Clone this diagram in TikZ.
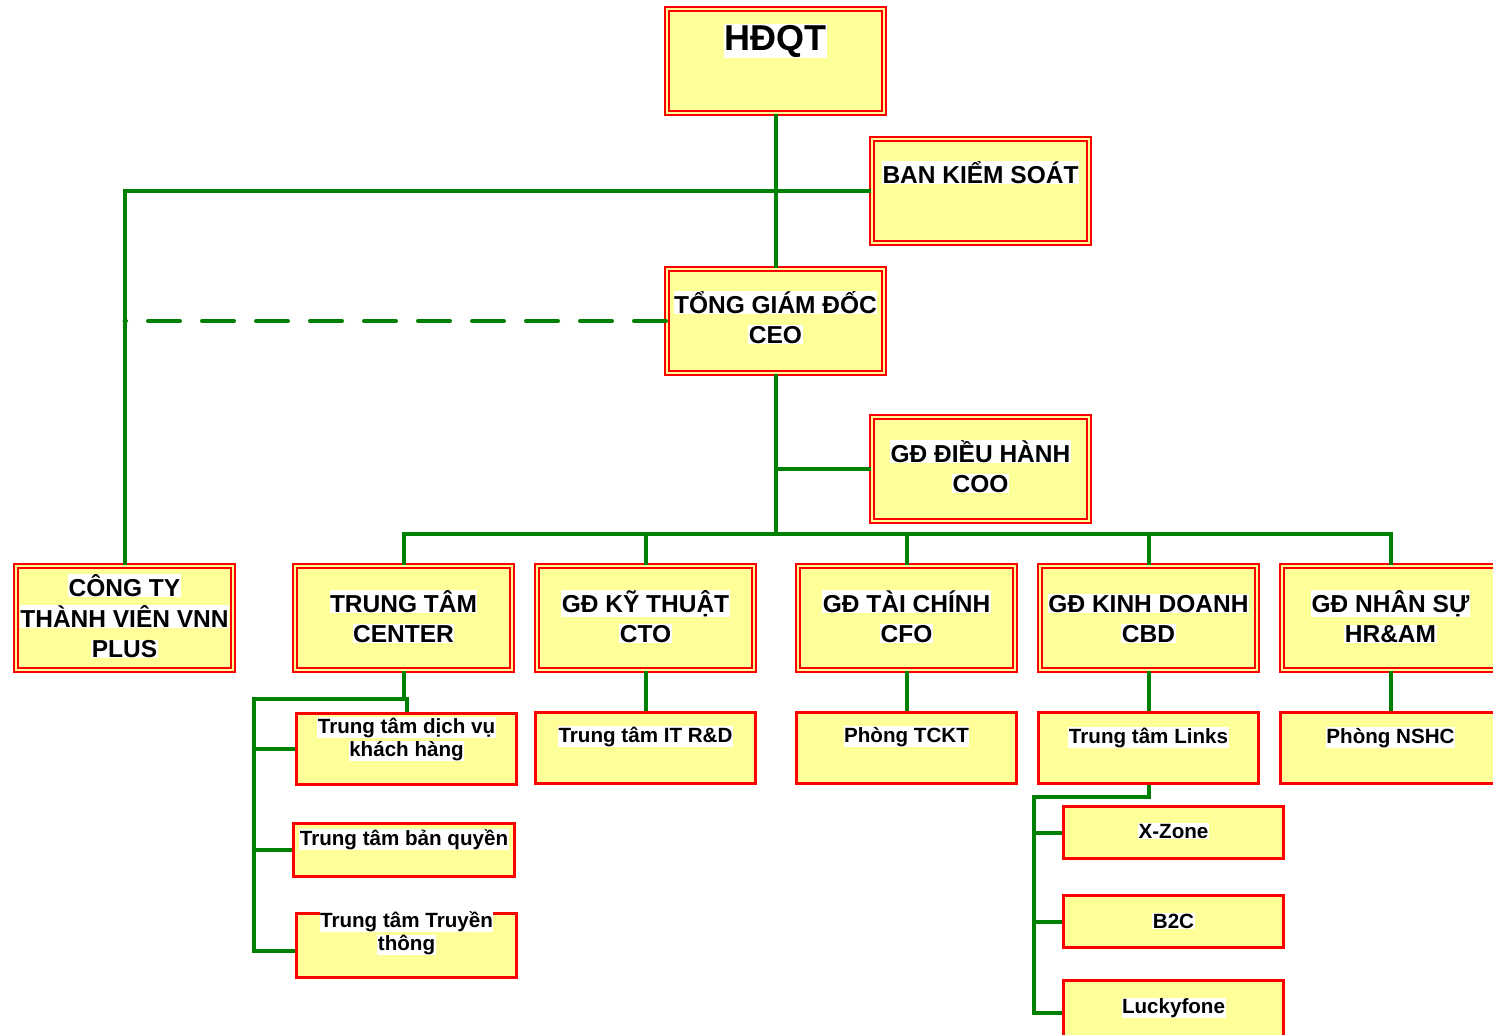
\documentclass[tikz,border=0pt]{standalone}
\usepackage{fontspec}
\setmainfont{Liberation Sans}
\definecolor{boxyellow}{RGB}{255,255,153}
\definecolor{linegreen}{RGB}{0,128,0}
\newcommand{\hl}[1]{{\setlength{\fboxsep}{0.5pt}\colorbox{white}{#1}}}
\newcommand{\stk}[1]{\begin{tabular}[t]{@{}c@{}}#1\end{tabular}}

\begin{document}
\begin{tikzpicture}[x=1pt,y=-1pt,
    dbox/.style={draw=red,line width=2pt,double=boxyellow,double distance=2pt,
      fill=boxyellow,minimum width=217pt,minimum height=104pt,inner sep=0pt},
    sbox/.style={draw=red,line width=3pt,fill=boxyellow,minimum width=220pt,inner sep=0pt},
    lbl/.style={anchor=base,inner sep=0pt,font=\bfseries\fontsize{24.5}{30}\selectfont},
    slbl/.style={lbl,font=\bfseries\fontsize{20.6}{23.5}\selectfont},
    conn/.style={draw=linegreen,line width=4pt}]
         \useasboundingbox (0,0) rectangle (1493,1034) ;
         % top of the chart
         \node[dbox] (hdqt) at (775.5,60.5) {} ;
         \node[dbox] (bks) at (980.5,191) {} ;
         \node[dbox] (ceo) at (775.5,321) {} ;
         \node[dbox] (coo) at (980.5,469) {} ;
         % row of directors
         \node[dbox] (cty) at (124.5,618) {} ;
         \node[dbox] (center) at (403.5,618) {} ;
         \node[dbox] (cto) at (645.5,618) {} ;
         \node[dbox] (cfo) at (906.5,618) {} ;
         \node[dbox] (cbd) at (1148.5,618) {} ;
         \node[dbox] (hr) at (1390.5,618) {} ;
         % units
         \node[sbox,minimum height=71pt] (cskh) at (406.5,749) {} ;
         \node[sbox,minimum height=53pt,minimum width=221pt] (bq) at (404,850) {} ;
         \node[sbox,minimum height=64pt] (tt) at (406.5,945.5) {} ;
         \node[sbox,minimum height=71pt] (itrd) at (645.5,748) {} ;
         \node[sbox,minimum height=71pt] (tckt) at (906.5,748) {} ;
         \node[sbox,minimum height=71pt] (links) at (1148.5,748) {} ;
         \node[sbox,minimum height=71pt] (nshc) at (1390.5,748) {} ;
         \node[sbox,minimum height=52pt] (xzone) at (1173.5,832.5) {} ;
         \node[sbox,minimum height=52pt] (b2c) at (1173.5,921.5) {} ;
         \node[sbox,minimum height=59pt] (lucky) at (1173.5,1010) {} ;
         % texts
         \node[lbl,font=\bfseries\fontsize{36}{40}\selectfont] (hdqt-t) at (775.5,50) {\hl{HĐQT}} ;
         \node[lbl] (bks-t) at (980.5,183) {\hl{BAN KIỂM SOÁT}} ;
         \node[lbl] (ceo-t) at (775.5,313) {\stk{\hl{TỔNG GIÁM ĐỐC}\\\hl{CEO}}} ;
         \node[lbl] (coo-t) at (980.5,462) {\stk{\hl{GĐ ĐIỀU HÀNH}\\\hl{COO}}} ;
         \node[lbl] (cty-t) at (124.5,596) {\stk{\hl{CÔNG TY}\\\hl{THÀNH VIÊN VNN}\\\hl{PLUS}}} ;
         \node[lbl] (center-t) at (403.5,612) {\stk{\hl{TRUNG TÂM}\\\hl{CENTER}}} ;
         \node[lbl] (cto-t) at (645.5,612) {\stk{\hl{GĐ KỸ THUẬT}\\\hl{CTO}}} ;
         \node[lbl] (cfo-t) at (906.5,612) {\stk{\hl{GĐ TÀI CHÍNH}\\\hl{CFO}}} ;
         \node[lbl] (cbd-t) at (1148.5,612) {\stk{\hl{GĐ KINH DOANH}\\\hl{CBD}}} ;
         \node[lbl] (hr-t) at (1390.5,612) {\stk{\hl{GĐ NHÂN SỰ}\\\hl{HR\&AM}}} ;
         \node[slbl] (cskh-t) at (406.5,733) {\stk{\hl{Trung tâm dịch vụ}\\\hl{khách hàng}}} ;
         \node[slbl] (bq-t) at (404,845) {\hl{Trung tâm bản quyền}} ;
         \node[slbl] (tt-t) at (406.5,927) {\stk{\hl{Trung tâm Truyền}\\\hl{thông}}} ;
         \node[slbl] (itrd-t) at (645.5,742) {\hl{Trung tâm IT R\&D}} ;
         \node[slbl] (tckt-t) at (906.5,742) {\hl{Phòng TCKT}} ;
         \node[slbl] (links-t) at (1148.5,743) {\hl{Trung tâm Links}} ;
         \node[slbl] (nshc-t) at (1390.5,743) {\hl{Phòng NSHC}} ;
         \node[slbl] (xzone-t) at (1173.5,838) {\hl{X-Zone}} ;
         \node[slbl] (b2c-t) at (1173.5,928) {\hl{B2C}} ;
         \node[slbl] (lucky-t) at (1173.5,1013) {\hl{Luckyfone}} ;
         % connectors
         \draw[conn] (hdqt) -- (ceo) ;
         \draw[conn] (cty) |- (bks) ;
         \draw[conn,dash pattern=on 32pt off 22pt,line cap=round] (ceo) -- (ceo -| cty) ;
         \coordinate (bus) at (775.5,534) ;
         \draw[conn] (ceo) -- (bus) ;
         \draw[conn] (coo) -- (coo -| ceo) ;
         \draw[conn] (bus) -| (center) ;
         \draw[conn] (bus) -| (cto) ;
         \draw[conn] (bus) -| (cfo) ;
         \draw[conn] (bus) -| (cbd) ;
         \draw[conn] (bus) -| (hr) ;
         \draw[conn] (cto) -- (itrd) ;
         \draw[conn] (cfo) -- (tckt) ;
         \draw[conn] (cbd) -- (links) ;
         \draw[conn] (hr) -- (nshc) ;
         % centre units
         \coordinate (cs) at (254,699) ;
         \draw[conn] (center) |- (cs) |- ([yshift=-5pt]tt.west) ;
         \draw[conn] (cskh) |- (cs) ;
         \draw[conn] (cskh) -- (cskh -| cs) ;
         \draw[conn] (bq) -- (bq -| cs) ;
         % links units
         \coordinate (lk) at (1034,797) ;
         \draw[conn] (links) |- (lk) |- ([yshift=-3pt]lucky.west) ;
         \draw[conn] (xzone) -- (xzone -| lk) ;
         \draw[conn] (b2c) -- (b2c -| lk) ;
       \end{tikzpicture}
\end{document}
